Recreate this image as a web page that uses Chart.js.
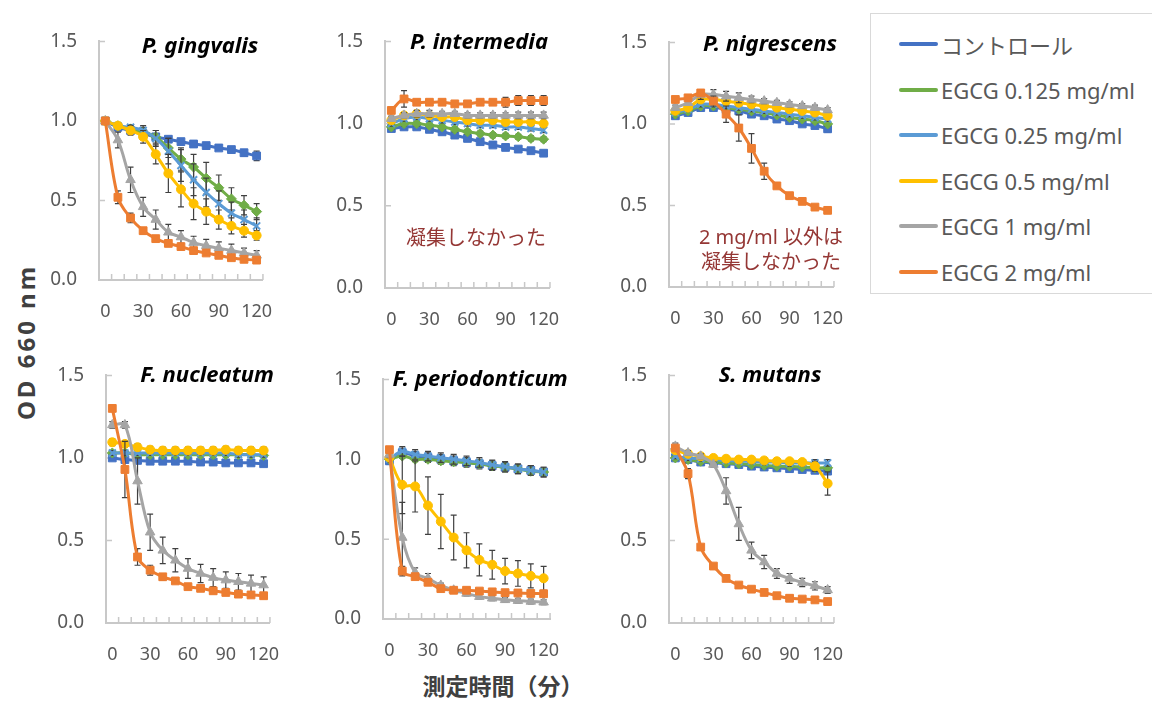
<!DOCTYPE html>
<html>
<head>
<meta charset="utf-8">
<script src="https://cdn.jsdelivr.net/npm/chart.js@4.4.0/dist/chart.umd.min.js"></script>
<style>
  body { margin: 0; background: #fff; width: 1152px; height: 702px; position: relative; overflow: hidden;
         font-family: "Noto Sans", "Noto Sans CJK JP", sans-serif; }
  canvas { position: absolute; }
  .ttl { position: absolute; font-weight: bold; font-style: italic; font-size: 22px; color: #000;
         white-space: nowrap; transform: translate(-50%, -50%); }
  .note { position: absolute; color: #953735; font-size: 20px; line-height: 25px; text-align: center;
          white-space: nowrap; transform: translate(-50%, -50%); font-family: "Noto Sans", "Noto Sans CJK JP", sans-serif; }
  #legend { position: absolute; left: 870px; top: 13px; width: 300px; height: 281px;
            border: 1px solid #d9d9d9; box-sizing: border-box; }
  .lg { position: absolute; left: 28px; height: 30px; display: flex; align-items: center;
        font-size: 22px; color: #595959; white-space: nowrap; }
  .lg i { display: inline-block; width: 39px; height: 4px; border-radius: 2px; margin-right: 3px; }
  #ytitle { position: absolute; left: 25px; top: 342px; transform: translate(-50%, -50%) rotate(-90deg);
            font-weight: bold; font-size: 24px; letter-spacing: 3px; color: #404040; white-space: nowrap; }
  #xtitle { position: absolute; left: 503px; top: 685px; transform: translate(-50%, -50%);
            font-weight: bold; font-size: 23px; color: #404040; white-space: nowrap;
            font-family: "Noto Sans CJK JP", sans-serif; }
</style>
</head>
<body>
<div id="ytitle">OD 660 nm</div>
<div id="xtitle">測定時間（分）</div>
<div id="legend"></div>

<script>
// time points (min)
var TIMES = [0, 10, 20, 30, 40, 50, 60, 70, 80, 90, 100, 110, 120];
var SERIES = ['コントロール', 'EGCG 0.125 mg/ml', 'EGCG 0.25 mg/ml', 'EGCG 0.5 mg/ml', 'EGCG 1 mg/ml', 'EGCG 2 mg/ml'];
var Y_TICKS = [0, 0.5, 1.0, 1.5];

// OD660, one row per series (same order as SERIES)
var P_GINGIVALIS = [
  [1.00, 0.96, 0.94, 0.92, 0.90, 0.885, 0.87, 0.855, 0.845, 0.83, 0.82, 0.80, 0.78],
  [1.00, 0.97, 0.95, 0.93, 0.90, 0.83, 0.76, 0.71, 0.64, 0.58, 0.51, 0.47, 0.43],
  [1.00, 0.97, 0.96, 0.94, 0.89, 0.81, 0.72, 0.63, 0.55, 0.48, 0.42, 0.38, 0.34],
  [1.00, 0.97, 0.94, 0.90, 0.79, 0.67, 0.57, 0.48, 0.43, 0.38, 0.34, 0.31, 0.28],
  [1.00, 0.88, 0.63, 0.46, 0.38, 0.30, 0.27, 0.235, 0.215, 0.20, 0.185, 0.17, 0.155],
  [1.00, 0.52, 0.39, 0.31, 0.26, 0.23, 0.21, 0.185, 0.17, 0.155, 0.14, 0.13, 0.125]
];
var P_GINGIVALIS_ERR = [
  [0, 0.015, 0.015, 0.015, 0.015, 0.015, 0.015, 0.015, 0.015, 0.015, 0.015, 0.02, 0.03],
  [0, 0.015, 0.015, 0.03, 0.04, 0.06, 0.07, 0.08, 0.10, 0.08, 0.07, 0.06, 0.05],
  [0, 0.015, 0.015, 0.03, 0.05, 0.08, 0.10, 0.10, 0.09, 0.08, 0.07, 0.06, 0.05],
  [0, 0.015, 0.03, 0.04, 0.06, 0.12, 0.11, 0.10, 0.08, 0.06, 0.05, 0.04, 0.03],
  [0, 0.05, 0.08, 0.06, 0.06, 0.05, 0.04, 0.04, 0.04, 0.04, 0.04, 0.03, 0.03],
  [0, 0.04, 0.03, 0.02, 0.015, 0.015, 0.015, 0.015, 0.015, 0.015, 0.015, 0.015, 0.015]
];

var P_INTERMEDIA = [
  [0.97, 0.98, 0.98, 0.965, 0.95, 0.93, 0.91, 0.89, 0.87, 0.855, 0.845, 0.835, 0.82],
  [0.98, 1.00, 1.00, 0.99, 0.98, 0.965, 0.95, 0.94, 0.93, 0.925, 0.92, 0.91, 0.905],
  [1.00, 1.03, 1.04, 1.03, 1.02, 1.01, 1.00, 0.99, 0.99, 0.98, 0.98, 0.97, 0.96],
  [1.02, 1.05, 1.06, 1.05, 1.04, 1.04, 1.02, 1.02, 1.02, 1.01, 1.01, 1.01, 1.00],
  [1.03, 1.05, 1.06, 1.06, 1.06, 1.06, 1.05, 1.05, 1.05, 1.05, 1.05, 1.05, 1.05],
  [1.08, 1.15, 1.13, 1.13, 1.13, 1.12, 1.12, 1.13, 1.13, 1.13, 1.14, 1.14, 1.14]
];
var P_INTERMEDIA_ERR = [
  [0.015, 0.015, 0.015, 0.015, 0.015, 0.015, 0.015, 0.015, 0.015, 0.015, 0.015, 0.015, 0.015],
  [0.015, 0.015, 0.015, 0.015, 0.015, 0.015, 0.015, 0.015, 0.015, 0.015, 0.015, 0.015, 0.015],
  [0.015, 0.015, 0.015, 0.015, 0.015, 0.015, 0.015, 0.015, 0.015, 0.015, 0.015, 0.015, 0.015],
  [0.015, 0.015, 0.015, 0.015, 0.015, 0.015, 0.015, 0.015, 0.015, 0.015, 0.015, 0.015, 0.015],
  [0.015, 0.015, 0.02, 0.02, 0.015, 0.015, 0.015, 0.015, 0.015, 0.015, 0.02, 0.02, 0.02],
  [0.015, 0.05, 0.015, 0.015, 0.015, 0.015, 0.015, 0.015, 0.015, 0.03, 0.03, 0.03, 0.03]
];

var P_NIGRESCENS = [
  [1.05, 1.07, 1.10, 1.10, 1.09, 1.08, 1.06, 1.05, 1.03, 1.02, 1.00, 0.99, 0.97],
  [1.06, 1.08, 1.11, 1.11, 1.10, 1.09, 1.08, 1.07, 1.055, 1.04, 1.03, 1.02, 1.00],
  [1.07, 1.09, 1.12, 1.12, 1.11, 1.10, 1.09, 1.08, 1.07, 1.06, 1.05, 1.04, 1.03],
  [1.08, 1.10, 1.15, 1.15, 1.14, 1.13, 1.12, 1.11, 1.10, 1.09, 1.08, 1.07, 1.05],
  [1.10, 1.13, 1.18, 1.18, 1.17, 1.16, 1.15, 1.14, 1.13, 1.12, 1.11, 1.10, 1.085],
  [1.15, 1.16, 1.19, 1.14, 1.06, 0.975, 0.85, 0.71, 0.62, 0.56, 0.525, 0.49, 0.47]
];
var P_NIGRESCENS_ERR = [
  [0.015, 0.015, 0.015, 0.015, 0.015, 0.015, 0.015, 0.015, 0.015, 0.015, 0.015, 0.015, 0.02],
  [0.015, 0.015, 0.015, 0.015, 0.015, 0.015, 0.015, 0.015, 0.015, 0.015, 0.015, 0.015, 0.015],
  [0.015, 0.015, 0.015, 0.015, 0.015, 0.015, 0.015, 0.015, 0.015, 0.015, 0.015, 0.015, 0.015],
  [0.015, 0.015, 0.015, 0.015, 0.015, 0.015, 0.015, 0.015, 0.015, 0.015, 0.015, 0.015, 0.015],
  [0.015, 0.015, 0.03, 0.03, 0.03, 0.03, 0.02, 0.015, 0.015, 0.015, 0.015, 0.015, 0.015],
  [0.015, 0.015, 0.015, 0.03, 0.05, 0.08, 0.09, 0.05, 0.015, 0.015, 0.015, 0.015, 0.015]
];

var F_NUCLEATUM = [
  [1.00, 0.99, 0.985, 0.98, 0.98, 0.98, 0.98, 0.975, 0.975, 0.97, 0.97, 0.97, 0.965],
  [1.03, 1.03, 1.02, 1.02, 1.02, 1.02, 1.02, 1.02, 1.02, 1.02, 1.02, 1.02, 1.015],
  [1.03, 1.03, 1.03, 1.03, 1.03, 1.03, 1.03, 1.03, 1.03, 1.03, 1.02, 1.02, 1.02],
  [1.095, 1.085, 1.065, 1.05, 1.045, 1.045, 1.045, 1.045, 1.045, 1.05, 1.045, 1.045, 1.045],
  [1.20, 1.20, 0.86, 0.55, 0.44, 0.38, 0.33, 0.30, 0.275, 0.26, 0.25, 0.24, 0.23],
  [1.30, 0.93, 0.40, 0.32, 0.28, 0.255, 0.22, 0.21, 0.195, 0.185, 0.175, 0.17, 0.165]
];
var F_NUCLEATUM_ERR = [
  [0.015, 0.015, 0.015, 0.015, 0.015, 0.015, 0.015, 0.015, 0.015, 0.015, 0.015, 0.015, 0.015],
  [0.015, 0.015, 0.015, 0.015, 0.015, 0.015, 0.015, 0.015, 0.015, 0.015, 0.015, 0.015, 0.015],
  [0.015, 0.015, 0.015, 0.015, 0.015, 0.015, 0.015, 0.015, 0.015, 0.015, 0.015, 0.015, 0.015],
  [0.02, 0.02, 0.02, 0.02, 0.02, 0.02, 0.02, 0.02, 0.02, 0.02, 0.02, 0.02, 0.02],
  [0.02, 0.02, 0.14, 0.11, 0.08, 0.07, 0.06, 0.055, 0.055, 0.05, 0.05, 0.05, 0.05],
  [0.015, 0.17, 0.05, 0.03, 0.02, 0.015, 0.015, 0.015, 0.015, 0.015, 0.015, 0.015, 0.015]
];

var F_PERIODONTICUM = [
  [0.99, 1.04, 1.02, 1.01, 1.00, 0.99, 0.98, 0.97, 0.96, 0.95, 0.94, 0.93, 0.92],
  [1.00, 1.02, 1.00, 1.00, 0.99, 0.985, 0.98, 0.97, 0.96, 0.95, 0.94, 0.925, 0.92],
  [1.00, 1.05, 1.03, 1.02, 1.01, 1.00, 0.99, 0.98, 0.965, 0.955, 0.94, 0.93, 0.92],
  [1.01, 0.84, 0.83, 0.71, 0.61, 0.51, 0.43, 0.37, 0.34, 0.30, 0.285, 0.27, 0.255],
  [1.03, 0.51, 0.29, 0.255, 0.21, 0.18, 0.16, 0.14, 0.13, 0.12, 0.115, 0.11, 0.105],
  [1.06, 0.30, 0.265, 0.23, 0.19, 0.18, 0.18, 0.175, 0.17, 0.165, 0.163, 0.16, 0.158]
];
var F_PERIODONTICUM_ERR = [
  [0.02, 0.03, 0.03, 0.03, 0.03, 0.03, 0.03, 0.03, 0.03, 0.03, 0.03, 0.03, 0.03],
  [0.015, 0.015, 0.015, 0.015, 0.015, 0.015, 0.015, 0.015, 0.015, 0.015, 0.015, 0.015, 0.015],
  [0.02, 0.03, 0.03, 0.03, 0.03, 0.03, 0.03, 0.03, 0.03, 0.03, 0.03, 0.03, 0.03],
  [0.015, 0.18, 0.16, 0.18, 0.17, 0.14, 0.11, 0.10, 0.09, 0.08, 0.08, 0.075, 0.075],
  [0.02, 0.22, 0.03, 0.03, 0.015, 0.015, 0.015, 0.015, 0.015, 0.015, 0.015, 0.015, 0.015],
  [0.02, 0.03, 0.015, 0.015, 0.015, 0.015, 0.015, 0.015, 0.015, 0.015, 0.015, 0.015, 0.015]
];

var S_MUTANS = [
  [1.00, 0.99, 0.975, 0.97, 0.965, 0.96, 0.95, 0.945, 0.94, 0.935, 0.93, 0.925, 0.92],
  [1.00, 0.99, 0.98, 0.975, 0.97, 0.965, 0.96, 0.955, 0.95, 0.95, 0.945, 0.94, 0.94],
  [1.01, 1.00, 0.995, 0.99, 0.985, 0.98, 0.98, 0.975, 0.975, 0.97, 0.97, 0.97, 0.97],
  [1.047, 1.025, 1.01, 1.00, 0.995, 0.99, 0.99, 0.985, 0.98, 0.98, 0.975, 0.95, 0.845],
  [1.07, 1.03, 1.01, 0.96, 0.80, 0.60, 0.44, 0.37, 0.30, 0.27, 0.245, 0.225, 0.20],
  [1.06, 0.905, 0.46, 0.345, 0.27, 0.23, 0.205, 0.185, 0.165, 0.15, 0.145, 0.14, 0.13]
];
var S_MUTANS_ERR = [
  [0.015, 0.015, 0.015, 0.015, 0.015, 0.015, 0.015, 0.015, 0.015, 0.015, 0.015, 0.015, 0.015],
  [0.015, 0.015, 0.015, 0.015, 0.015, 0.015, 0.015, 0.015, 0.015, 0.015, 0.015, 0.015, 0.015],
  [0.015, 0.015, 0.015, 0.015, 0.015, 0.015, 0.015, 0.015, 0.015, 0.02, 0.02, 0.02, 0.02],
  [0.015, 0.015, 0.015, 0.015, 0.015, 0.015, 0.015, 0.015, 0.015, 0.015, 0.015, 0.03, 0.07],
  [0.02, 0.015, 0.015, 0.015, 0.08, 0.10, 0.05, 0.04, 0.03, 0.03, 0.025, 0.025, 0.02],
  [0.015, 0.03, 0.015, 0.015, 0.015, 0.015, 0.015, 0.015, 0.015, 0.015, 0.015, 0.015, 0.015]
];

// styling
var COLORS = ['#4472C4', '#70AD47', '#5B9BD5', '#FFC000', '#A5A5A5', '#ED7D31'];
var MARKERS = ['rect', 'rectRot', 'crossRot', 'circle', 'triangle', 'rect'];
var MARKER_R = [5.5, 5, 5, 4.5, 5.5, 5.5];
var AXIS_COLOR = '#c8c8c8';
var LABEL_COLOR = '#595959';
var FONT = "'Noto Sans', sans-serif";

// panel plot boxes: axis x, top (1.5), right, bottom (0.0)
var PANELS = [
  { name: 'P. gingvalis',     data: P_GINGIVALIS,    err: P_GINGIVALIS_ERR,    box: [99, 23, 270, 280],  title: [200, 44] },
  { name: 'P. intermedia',    data: P_INTERMEDIA,    err: P_INTERMEDIA_ERR,    box: [385, 23, 557, 288], title: [479, 40] },
  { name: 'P. nigrescens',    data: P_NIGRESCENS,    err: P_NIGRESCENS_ERR,    box: [669, 24, 841, 287], title: [770, 42] },
  { name: 'F. nucleatum',     data: F_NUCLEATUM,     err: F_NUCLEATUM_ERR,     box: [106, 357, 277, 623], title: [207, 373] },
  { name: 'F. periodonticum', data: F_PERIODONTICUM, err: F_PERIODONTICUM_ERR, box: [383, 361, 557, 619], title: [480, 377] },
  { name: 'S. mutans',        data: S_MUTANS,        err: S_MUTANS_ERR,        box: [669, 357, 841, 623], title: [770, 373] }
];

var YW = 60, PT = 15, PR = 24, XH = 50;

// inside tick marks like Excel
var axisTicks = {
  id: 'axisTicks',
  beforeDatasetsDraw: function(chart) {
    var xs = chart.scales.x, ys = chart.scales.y, ctx = chart.ctx;
    var n = xs.ticks.length;
    var step = (xs.right - xs.left) / n;
    ctx.save();
    ctx.strokeStyle = AXIS_COLOR;
    ctx.lineWidth = 1.5;
    ctx.beginPath();
    for (var i = 1; i <= n; i++) {
      var px = xs.left + i * step;
      ctx.moveTo(px, ys.bottom);
      ctx.lineTo(px, ys.bottom - 6);
    }
    ys.ticks.forEach(function(t, i) {
      var py = ys.getPixelForTick(i);
      ctx.moveTo(xs.left, py);
      ctx.lineTo(xs.left + 6, py);
    });
    ctx.stroke();
    ctx.restore();
  }
};

// error bars go under each series' own line and markers
var errorBars = {
  id: 'errorBars',
  beforeDatasetDraw: function(chart, args) {
    var ds = chart.data.datasets[args.index];
    if (!ds.errors) return;
    var ys = chart.scales.y, ctx = chart.ctx;
    ctx.save();
    ctx.strokeStyle = '#404040';
    ctx.lineWidth = 1.2;
    args.meta.data.forEach(function(pt, i) {
      var e = ds.errors[i];
      if (!e) return;
      var v = ds.data[i];
      var y1 = ys.getPixelForValue(v + e), y2 = ys.getPixelForValue(v - e);
      ctx.beginPath();
      ctx.moveTo(pt.x, y1); ctx.lineTo(pt.x, y2);
      ctx.moveTo(pt.x - 3, y1); ctx.lineTo(pt.x + 3, y1);
      ctx.moveTo(pt.x - 3, y2); ctx.lineTo(pt.x + 3, y2);
      ctx.stroke();
    });
    ctx.restore();
  }
};

PANELS.forEach(function(p) {
  var b = p.box;
  var cv = document.createElement('canvas');
  var w = YW + (b[2] - b[0]) + PR, h = PT + (b[3] - b[1]) + XH;
  cv.width = w; cv.height = h;
  cv.style.left = (b[0] - YW) + 'px';
  cv.style.top = (b[1] - PT) + 'px';
  cv.style.width = w + 'px'; cv.style.height = h + 'px';
  document.body.appendChild(cv);

  var datasets = SERIES.map(function(name, i) {
    return {
      label: name,
      data: p.data[i],
      errors: p.err[i],
      borderColor: COLORS[i],
      backgroundColor: COLORS[i],
      borderWidth: 3,
      pointStyle: MARKERS[i],
      pointRadius: MARKER_R[i],
      pointBackgroundColor: COLORS[i],
      pointBorderColor: COLORS[i],
      pointBorderWidth: MARKERS[i] === 'crossRot' ? 2 : 1,
      tension: 0.35,
      fill: false,
      order: SERIES.length - i
    };
  });

  new Chart(cv.getContext('2d'), {
    type: 'line',
    data: { labels: TIMES, datasets: datasets },
    options: {
      responsive: false,
      animation: false,
      layout: { padding: { top: PT, right: PR, left: 0, bottom: 0 } },
      plugins: { legend: { display: false }, tooltip: { enabled: false } },
      scales: {
        x: {
          type: 'category',
          offset: true,
          grid: { offset: true, drawOnChartArea: false, drawTicks: false },
          border: { display: true, color: AXIS_COLOR, width: 2 },
          ticks: {
            autoSkip: false, maxRotation: 0, padding: 21, color: LABEL_COLOR,
            font: { family: FONT, size: 18 },
            callback: function(v, i) { return TIMES[i] % 30 === 0 ? String(TIMES[i]) : ''; }
          },
          afterFit: function(s) { s.height = XH; }
        },
        y: {
          min: Y_TICKS[0], max: Y_TICKS[Y_TICKS.length - 1],
          grid: { drawOnChartArea: false, drawTicks: false },
          border: { display: true, color: AXIS_COLOR, width: 2 },
          ticks: {
            stepSize: 0.5, padding: 22, color: LABEL_COLOR,
            font: { family: FONT, size: 19 },
            callback: function(v) { return v.toFixed(1); }
          },
          afterFit: function(s) { s.width = YW; }
        }
      }
    },
    plugins: [axisTicks, errorBars]
  });

  var t = document.createElement('div');
  t.className = 'ttl';
  t.textContent = p.name;
  t.style.left = p.title[0] + 'px';
  t.style.top = p.title[1] + 'px';
  document.body.appendChild(t);
});

// notes
function addNote(html, x, y) {
  var d = document.createElement('div');
  d.className = 'note';
  d.innerHTML = html;
  d.style.left = x + 'px';
  d.style.top = y + 'px';
  document.body.appendChild(d);
}
addNote('凝集しなかった', 476, 237);
addNote('2 mg/ml 以外は<br>凝集しなかった', 771, 249);

// legend
var lg = document.getElementById('legend');
SERIES.forEach(function(name, i) {
  var row = document.createElement('div');
  row.className = 'lg';
  row.style.top = (15 + i * 45.6) + 'px';
  row.innerHTML = '<i style="background:' + COLORS[i] + '"></i>' + name;
  lg.appendChild(row);
});
</script>
</body>
</html>
